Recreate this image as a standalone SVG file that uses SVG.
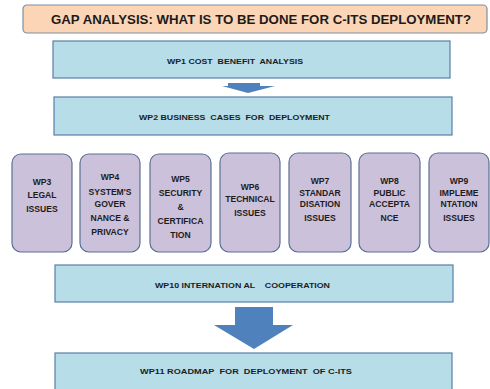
<svg xmlns="http://www.w3.org/2000/svg" width="490" height="389" viewBox="0 0 490 389">
<defs>
<style>
.t{font-family:"Liberation Sans",Arial,sans-serif;font-weight:bold;fill:#1c1c1c;text-anchor:middle}
.blue{fill:#B7DDE8;stroke:#5A7FA8;stroke-width:1.2}
.pur{fill:#CCC1DA;stroke:#5A7094;stroke-width:1.2}
.arr{fill:#4F81BD}
.s{font-size:7.5px;white-space:pre}
.p{font-size:8.6px}
</style>
</defs>
<rect width="490" height="389" fill="#fff"/>
<g id="title">
<rect x="23" y="5" width="464" height="28" rx="4" fill="#FBD5B5" stroke="#7F8FA4" stroke-width="1.2"/>
<text class="t" x="261" y="23.5" font-size="12.5" textLength="420" lengthAdjust="spacingAndGlyphs">GAP ANALYSIS: WHAT IS TO BE DONE FOR C-ITS DEPLOYMENT?</text>
</g>
<g id="wp1">
<rect class="blue" x="53" y="41" width="397" height="37"/>
<text class="t s" xml:space="preserve" x="235" y="64" textLength="136" lengthAdjust="spacingAndGlyphs">WP1 COST  BENEFIT  ANALYSIS</text>
</g>
<g id="wp2">
<rect class="blue" x="54" y="97" width="398" height="38"/>
<text class="t s" xml:space="preserve" x="234.5" y="120" textLength="191" lengthAdjust="spacingAndGlyphs">WP2 BUSINESS  CASES  FOR  DEPLOYMENT</text>
</g>
<g id="wp3">
<rect class="pur" x="12" y="154" width="60" height="98" rx="9"/>
<text class="t p"><tspan x="42" y="185">WP3</tspan><tspan x="42" y="197.5">LEGAL</tspan><tspan x="42" y="212">ISSUES</tspan></text>
</g>
<g id="wp4">
<rect class="pur" x="80" y="154" width="60" height="98" rx="9"/>
<text class="t p"><tspan x="110" y="180">WP4</tspan><tspan x="110" y="195">SYSTEM'S</tspan><tspan x="110" y="207">GOVER</tspan><tspan x="110" y="221">NANCE &amp;</tspan><tspan x="110" y="235">PRIVACY</tspan></text>
</g>
<g id="wp5">
<rect class="pur" x="150" y="154" width="61" height="98" rx="9"/>
<text class="t p"><tspan x="180.5" y="182">WP5</tspan><tspan x="180.5" y="196">SECURITY</tspan><tspan x="180.5" y="210">&amp;</tspan><tspan x="180.5" y="224">CERTIFICA</tspan><tspan x="180.5" y="238">TION</tspan></text>
</g>
<g id="wp6">
<rect class="pur" x="220" y="153" width="60" height="99" rx="9"/>
<text class="t p"><tspan x="250" y="190">WP6</tspan><tspan x="250" y="202">TECHNICAL</tspan><tspan x="250" y="216">ISSUES</tspan></text>
</g>
<g id="wp7">
<rect class="pur" x="289" y="153" width="62" height="99" rx="9"/>
<text class="t p"><tspan x="320" y="184">WP7</tspan><tspan x="320" y="196">STANDAR</tspan><tspan x="320" y="207">DISATION</tspan><tspan x="320" y="221">ISSUES</tspan></text>
</g>
<g id="wp8">
<rect class="pur" x="359" y="153" width="61" height="99" rx="9"/>
<text class="t p"><tspan x="389.5" y="184">WP8</tspan><tspan x="389.5" y="196">PUBLIC</tspan><tspan x="389.5" y="207">ACCEPTA</tspan><tspan x="389.5" y="221">NCE</tspan></text>
</g>
<g id="wp9">
<rect class="pur" x="429" y="153" width="60" height="99" rx="9"/>
<text class="t p"><tspan x="459" y="184">WP9</tspan><tspan x="459" y="196">IMPLEME</tspan><tspan x="459" y="207">NTATION</tspan><tspan x="459" y="221">ISSUES</tspan></text>
</g>
<g id="wp10">
<rect class="blue" x="55" y="265" width="398" height="37"/>
<text class="t s" xml:space="preserve" x="242.5" y="288" textLength="175" lengthAdjust="spacingAndGlyphs">WP10 INTERNATION AL    COOPERATION</text>
</g>
<g id="wp11">
<rect class="blue" x="55" y="353" width="397" height="40"/>
<text class="t s" xml:space="preserve" x="246" y="374" textLength="212" lengthAdjust="spacingAndGlyphs">WP11 ROADMAP  FOR  DEPLOYMENT  OF C-ITS</text>
</g>
<g id="connectors">
<polygon class="arr" points="228,83 260,83 260,86 275,86 248,93 222,86 228,86"/>
<polygon class="arr" points="235,307 273,307 273,325 293,325 254,349 214,325 235,325"/>
</g>
</svg>
